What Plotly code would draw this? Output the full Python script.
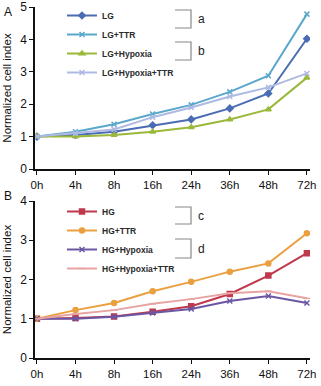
import plotly.graph_objects as go
from plotly.subplots import make_subplots

times = ["0h", "4h", "8h", "16h", "24h", "36h", "48h", "72h"]

lg = [1.0, 1.05, 1.15, 1.35, 1.53, 1.87, 2.33, 4.02]
lg_ttr = [1.0, 1.15, 1.38, 1.70, 1.98, 2.38, 2.88, 4.78]
lg_hyp = [1.0, 1.0, 1.05, 1.15, 1.29, 1.53, 1.84, 2.82]
lg_hyp_ttr = [1.0, 1.10, 1.22, 1.60, 1.90, 2.24, 2.52, 2.95]

hg = [1.0, 1.02, 1.06, 1.18, 1.32, 1.63, 2.10, 2.67]
hg_ttr = [1.0, 1.22, 1.40, 1.70, 1.94, 2.20, 2.41, 3.18]
hg_hyp = [1.0, 1.0, 1.05, 1.15, 1.25, 1.45, 1.58, 1.40]
hg_hyp_ttr = [1.0, 1.12, 1.22, 1.38, 1.50, 1.65, 1.70, 1.52]

W, H = 321, 386
ML, MR, MT, MB = 35, 11, 7, 28
PW, PH = W - ML - MR, H - MT - MB


def px(x):
    return (x - ML) / PW


def py(y):
    return (H - MB - y) / PH


fig = make_subplots(rows=2, cols=1, vertical_spacing=0.09)

seriesA = [
    ("LG", lg, "#4a6cb3", "diamond", 5),
    ("LG+TTR", lg_ttr, "#5ba7cc", "x-thin", 5),
    ("LG+Hypoxia", lg_hyp, "#9ab83a", "triangle-up", 5),
    ("LG+Hypoxia+TTR", lg_hyp_ttr, "#aebae2", "x-thin", 5),
]
seriesB = [
    ("HG", hg, "#c0384c", "square", 5),
    ("HG+TTR", hg_ttr, "#eaa040", "circle", 5),
    ("HG+Hypoxia", hg_hyp, "#6b56a3", "x-thin", 5),
    ("HG+Hypoxia+TTR", hg_hyp_ttr, "#e8a3a3", "line-ew", 5),
]

for name, vals, col, sym, sz in seriesA:
    fig.add_trace(go.Scatter(x=times, y=vals, name=name, mode="lines+markers",
                             line=dict(color=col, width=2),
                             marker=dict(symbol=sym, size=sz, color=col,
                                         line=dict(color=col, width=1.5)),
                             legend="legend"), row=1, col=1)
for name, vals, col, sym, sz in seriesB:
    fig.add_trace(go.Scatter(x=times, y=vals, name=name, mode="lines+markers",
                             line=dict(color=col, width=2),
                             marker=dict(symbol=sym, size=sz, color=col,
                                         line=dict(color=col, width=1.5)),
                             legend="legend2"), row=2, col=1)

axfont = dict(family="Liberation Sans, Arial, sans-serif", size=12, color="#111")
for r, rng, dt in [(1, [0, 5], 1), (2, [0, 4], 1)]:
    fig.update_yaxes(row=r, col=1, range=rng, dtick=dt, showgrid=False, zeroline=False,
                     showline=True, linecolor="#111", linewidth=1.5, automargin=False,
                     ticks="outside", ticklen=4, tickcolor="#111", tickfont=axfont,
                     title=dict(text="Normalized cell index",
                                font=dict(family="Liberation Sans, Arial, sans-serif", size=11.5, color="#111"),
                                standoff=6))
    fig.update_xaxes(row=r, col=1, type="category", range=[-0.05, 7.08], showgrid=False,
                     zeroline=False, showline=True, linecolor="#111", linewidth=1.5, automargin=False,
                     ticks="outside", ticklen=4, tickcolor="#111",
                     tickfont=dict(family="Liberation Sans, Arial, sans-serif", size=11.5, color="#111"))

fig.update_layout(yaxis_domain=[py(169), 1.0], yaxis2_domain=[0.0, py(201)])

legfont = dict(family="Liberation Sans, Arial, sans-serif", size=8.5, color="#2a2a2a", weight="bold")
fig.update_layout(
    legend=dict(x=px(62), y=py(1), xanchor="left", yanchor="top", bgcolor="rgba(0,0,0,0)",
                font=legfont, tracegroupgap=0, itemwidth=30),
    legend2=dict(x=px(62), y=py(197), xanchor="left", yanchor="top", bgcolor="rgba(0,0,0,0)",
                 font=legfont, tracegroupgap=0, itemwidth=30),
)

shapes = []
annotations = []
bcol = "#888"
for (y0, y1, lab) in [(10, 28, "a"), (42, 60, "b"), (207, 224, "c"), (239, 258, "d")]:
    x0, x1 = 175, 191
    path = f"M {px(x0)},{py(y0)} L {px(x1)},{py(y0)} L {px(x1)},{py(y1)} L {px(x0)},{py(y1)}"
    shapes.append(dict(type="path", path=path, xref="paper", yref="paper",
                       line=dict(color=bcol, width=1.2)))
    annotations.append(dict(text=lab, x=px(196), y=py((y0 + y1) / 2), xref="paper", yref="paper",
                            xanchor="left", yanchor="middle", showarrow=False,
                            font=dict(family="Liberation Sans, Arial, sans-serif", size=12, color="#222")))
for lab, yy in [("A", 3), ("B", 187)]:
    annotations.append(dict(text=lab, x=px(2), y=py(yy), xref="paper", yref="paper",
                            xanchor="left", yanchor="top", showarrow=False,
                            font=dict(family="Liberation Sans, Arial, sans-serif", size=12, color="#111")))

fig.update_layout(width=W, height=H, margin=dict(l=ML, r=MR, t=MT, b=MB, autoexpand=False),
                  plot_bgcolor="white", paper_bgcolor="white", showlegend=True,
                  shapes=shapes, annotations=annotations)

fig.write_html("out.html")
